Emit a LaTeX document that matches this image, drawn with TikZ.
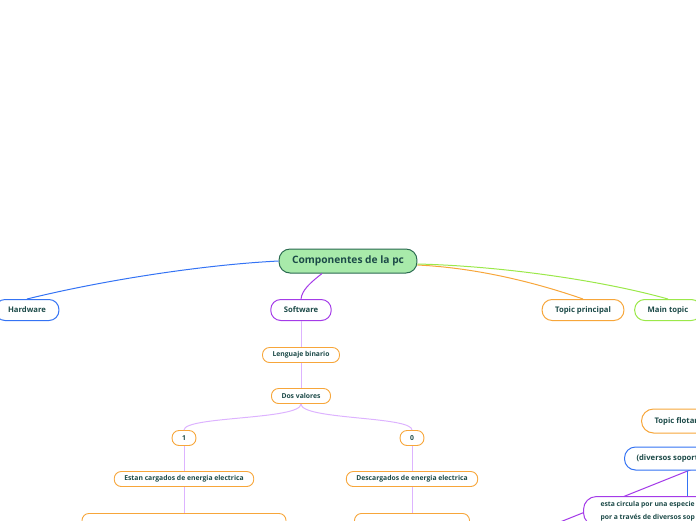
\documentclass[tikz,border=0pt]{standalone}
\usepackage{fontspec}
\setmainfont{Open Sans}
\usetikzlibrary{positioning}
\definecolor{ink}{HTML}{1C4A48}
\definecolor{rootfill}{HTML}{A8EAAA}
\definecolor{rootline}{HTML}{2A6A50}
\definecolor{hwblue}{HTML}{3473F4}
\definecolor{swpurple}{HTML}{A43BE8}
\definecolor{tporange}{HTML}{F7A63A}
\definecolor{mtgreen}{HTML}{9BE84A}
\definecolor{lilac}{HTML}{DDB3FF}

\begin{document}
\begin{tikzpicture}[x=1pt, y=-1pt,
  topic/.style={draw, line width=1pt, fill=white, text=ink, rounded corners=10pt,
    minimum height=21pt, inner xsep=13pt, font=\fontsize{7.7}{9}\selectfont\bfseries},
  leaf/.style={draw=tporange, line width=0.9pt, fill=white, text=ink, rounded corners=7pt,
    minimum height=15pt, inner xsep=10pt, font=\fontsize{6.8}{8}\selectfont\bfseries},
  link/.style={line width=1pt, lilac}]
  \useasboundingbox (0,0) rectangle (696,520);
  \clip (0,0) rectangle (696,520);

  % main branches
  \node[topic, draw=rootline, fill=rootfill, minimum height=24pt, rounded corners=11pt,
    font=\fontsize{10.2}{12}\selectfont\bfseries] (root) at (348,261) {Componentes de la pc};
  \node[topic, draw=hwblue] (hw) at (27,310) {Hardware};
  \node[topic, draw=swpurple] (sw) at (301,310) {Software};
  \node[topic, draw=tporange] (tp) at (583,310) {Topic principal};
  \node[topic, draw=mtgreen] (mt) at (668,310) {Main topic};

  \draw[hwblue, line width=1pt] (root.west) .. controls (200,265) and (100,281) .. (hw.north);
  \draw[swpurple, line width=1pt] ([xshift=-26pt]root.south) .. controls (310,283) and (302,290) .. (sw.north);
  \draw[tporange, line width=1pt] ([yshift=-4pt]root.east) .. controls (480,268) and (540,284) .. (tp.north);
  \draw[mtgreen, line width=1pt] ([yshift=-3pt]root.east) .. controls (500,266) and (600,280) .. (mt.north);

  % software subtree
  \node[leaf] (lb) at (301,355) {Lenguaje binario};
  \node[leaf] (dv) at (301,396) {Dos valores};
  \node[leaf] (one) at (184,438) {1};
  \node[leaf] (zero) at (412,438) {0};
  \node[leaf] (ec) at (184,479) {Estan cargados de energia electrica};
  \node[leaf] (dc) at (412,479) {Descargados de energia electrica};
  \node[leaf, anchor=north, minimum width=204pt, minimum height=30pt] (ecx) at (184,513) {};
  \node[leaf, anchor=north, minimum width=115pt, minimum height=30pt] (dcx) at (412,513) {};

  \draw[link] (sw.south) -- (lb.north);
  \draw[link] (lb.south) -- (dv.north);
  \draw[link] (dv.south) .. controls +(0,16) and +(0,-14) .. (one.north);
  \draw[link] (dv.south) .. controls +(0,16) and +(0,-14) .. (zero.north);
  \draw[link] (one.south) -- (ec.north);
  \draw[link] (zero.south) -- (dc.north);
  \draw[link] (ec.south) -- (ecx.north);
  \draw[link] (dc.south) -- (dcx.north);

  % floating topics
  \coordinate (far1) at (720,458);
  \coordinate (far2) at (540,530);
  \draw[swpurple, line width=1pt] (far1) -- (far2);
  \node[topic, draw=tporange, anchor=west, minimum height=24pt, rounded corners=12pt] (tf) at (641,421) {Topic flotante};
  \node[topic, draw=hwblue, anchor=west, minimum height=23pt, rounded corners=11pt, inner xsep=12pt] (ds) at (624,458.5) {(diversos soportes)};
  \node[topic, draw=swpurple, anchor=north west, align=left, rounded corners=13pt, inner xsep=17pt,
    inner ysep=5pt, font=\fontsize{6.8}{12.5}\selectfont\bfseries] (ec2) at (583,496)
    {esta circula por una especie\\por a través de diversos sop};
  \draw[hwblue, line width=1pt] ([xshift=63pt]ds.south west) -- ([xshift=104pt]ec2.north west);
\end{tikzpicture}
\end{document}
